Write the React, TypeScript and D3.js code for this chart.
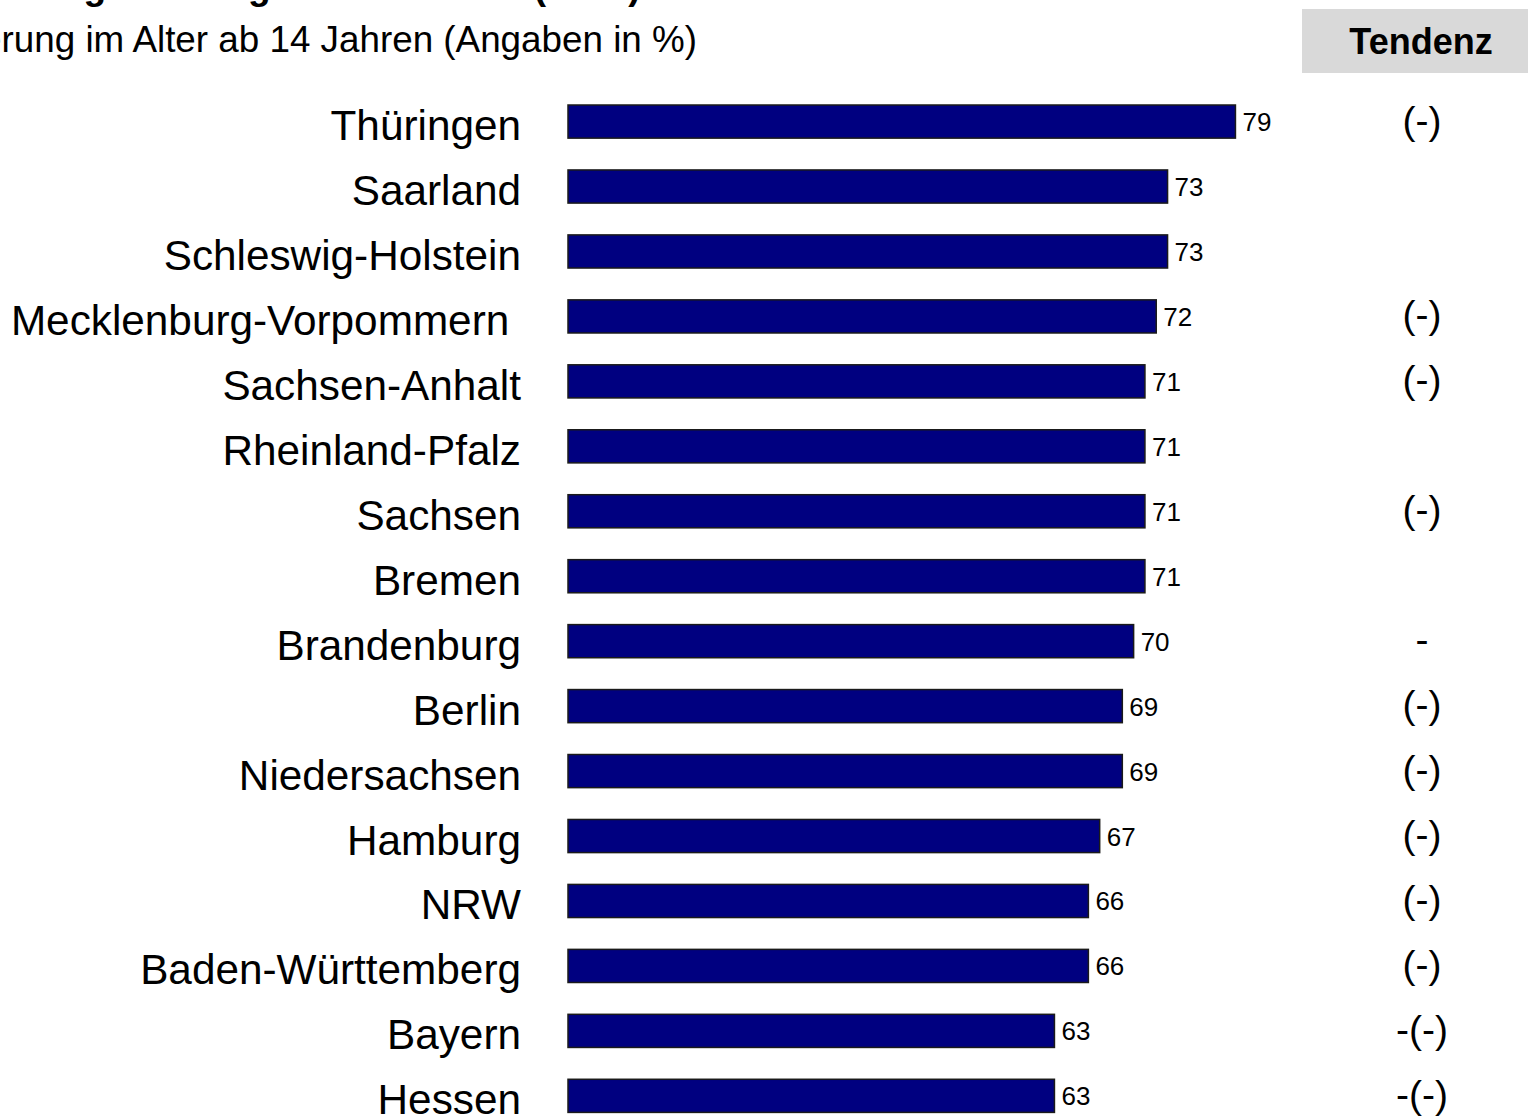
import React from "react";
import * as d3 from "d3";

const categories = [
  "Thüringen",
  "Saarland",
  "Schleswig-Holstein",
  "Mecklenburg-Vorpommern ",
  "Sachsen-Anhalt",
  "Rheinland-Pfalz",
  "Sachsen",
  "Bremen",
  "Brandenburg",
  "Berlin",
  "Niedersachsen",
  "Hamburg",
  "NRW",
  "Baden-Württemberg",
  "Bayern",
  "Hessen",
];
const values = [79, 73, 73, 72, 71, 71, 71, 71, 70, 69, 69, 67, 66, 66, 63, 63];
const tendenz = ["(-)", "", "", "(-)", "(-)", "", "(-)", "", "-", "(-)", "(-)", "(-)", "(-)", "(-)", "-(-)", "-(-)"];
const titleText = "Zeitungsnutzung nach Ländern (2009)";
const subtitleText = "Bevölkerung im Alter ab 14 Jahren (Angaben in %)";
const tendenzHeader = "Tendenz";

const W = 1528;
const H = 1118;
const FONT = "'Liberation Sans', Arial, Helvetica, sans-serif";

export default function App() {
  const x = d3.scaleLinear().domain([20, 100]).range([568, 1473]);
  const y = d3
    .scaleBand<string>()
    .domain(categories)
    .range([105, 1112.4])
    .paddingInner(0.49)
    .paddingOuter(0);
  const bw = y.bandwidth();

  return (
    <>
      <style>{"body{margin:0;overflow:hidden}"}</style>
      <svg
        width={W}
        height={H}
        style={{ display: "block", position: "absolute", left: 0, top: 0 }}
        fontFamily={FONT}
      >
        <rect x={0} y={0} width={W} height={H} fill="#ffffff" />
        <text x={-27.5} y={-1} fontSize={37} fontWeight="bold" fill="#000">
          {titleText}
        </text>
        <text x={697} y={52} fontSize={36.8} textAnchor="end" fill="#000">
          {subtitleText}
        </text>
        <rect x={1302} y={9} width={226} height={64} fill="#d9d9d9" />
        <text x={1421} y={54} fontSize={36} fontWeight="bold" textAnchor="middle" fill="#000">
          {tendenzHeader}
        </text>
        {categories.map((c, i) => {
          const top = y(c) as number;
          const cy = top + bw / 2;
          const v = values[i];
          return (
            <g key={c}>
              <text
                x={521}
                y={cy + 18.5}
                fontSize={42.3}
                textAnchor="end"
                fill="#000"
                style={{ whiteSpace: "pre" }}
              >
                {c}
              </text>
              <rect
                x={x(20)}
                y={top}
                width={x(v) - x(20)}
                height={bw}
                fill="#000080"
                stroke="#1a1a1a"
                strokeWidth={1.5}
              />
              <text x={x(v) + 7} y={cy + 9.5} fontSize={26} fill="#000">
                {v}
              </text>
              {tendenz[i] ? (
                <text x={1422} y={cy + 12} fontSize={39} textAnchor="middle" fill="#000">
                  {tendenz[i]}
                </text>
              ) : null}
            </g>
          );
        })}
      </svg>
    </>
  );
}
